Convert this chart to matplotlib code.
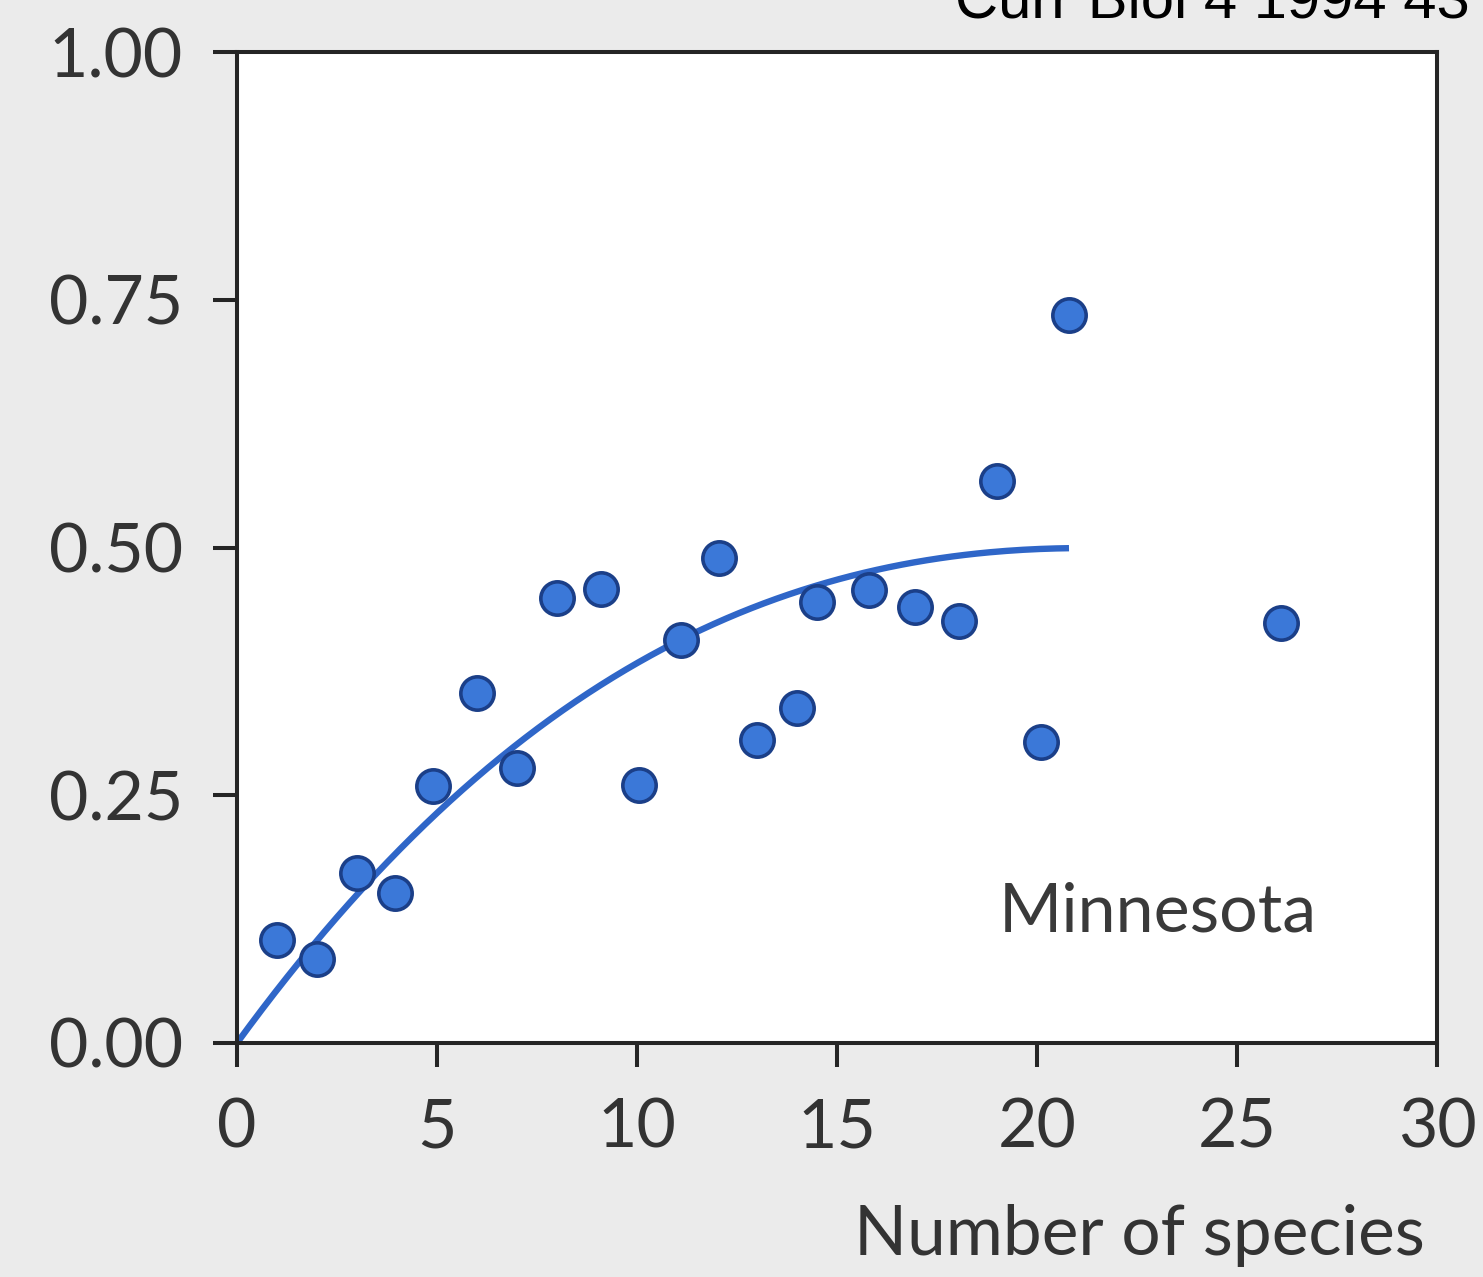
import numpy as np
import matplotlib
matplotlib.use("Agg")
import matplotlib.pyplot as plt

# Mean number of species per plot and the matching response values
species = [1.0, 2.0, 3.0, 3.95, 4.9, 6.0, 7.0, 8.0, 9.1, 10.05, 11.1, 12.05,
           13.0, 14.0, 14.5, 15.8, 16.95, 18.05, 19.0, 20.1, 20.8, 26.1]
response = [0.104, 0.085, 0.172, 0.151, 0.259, 0.353, 0.277, 0.449, 0.458,
            0.260, 0.407, 0.489, 0.306, 0.338, 0.445, 0.457, 0.440, 0.426,
            0.567, 0.304, 0.735, 0.424]

# Fitted cubic trend (highest power first) and the range it covers
fit_coefs = [1.83e-5, -0.00189, 0.0554, 0.0]
fit_range = (0.0, 20.8)

x_ticks = [0, 5, 10, 15, 20, 25, 30]
y_ticks = [0.0, 0.25, 0.5, 0.75, 1.0]
y_ticklabels = ["0.00", "0.25", "0.50", "0.75", "1.00"]

W, H, DPI = 1483, 1277, 100
fig = plt.figure(figsize=(W / DPI, H / DPI), dpi=DPI, facecolor="#ebebeb")
ax = fig.add_axes([237 / W, 1 - 1043 / H, 1200 / W, 991 / H])
ax.set_facecolor("white")

font = "Lato"
ink = "#252525"
blue_line = "#2f66c8"

xs = np.linspace(*fit_range, 200)
ax.plot(xs, np.polyval(fit_coefs, xs), color=blue_line, lw=4.6,
        solid_capstyle="butt", zorder=2)
ax.plot(species, response, "o", ms=24, mfc="#3b78d8", mec="#1b3f88",
        mew=2.6, zorder=3, clip_on=False)

ax.set_xlim(0, 30)
ax.set_ylim(0, 1.0)
ax.set_xticks(x_ticks)
ax.set_xticklabels([str(t) for t in x_ticks])
ax.set_yticks(y_ticks)
ax.set_yticklabels(y_ticklabels)

for s in ax.spines.values():
    s.set_color(ink)
    s.set_linewidth(2.9)
ax.tick_params(axis="both", direction="out", length=17, width=2.9,
               color=ink, labelcolor="#333333", labelsize=49)
ax.tick_params(axis="y", pad=22)
ax.tick_params(axis="x", pad=22)
for lab in ax.get_xticklabels() + ax.get_yticklabels():
    lab.set_fontfamily(font)

ax.text(19.05, 0.113, "Minnesota", fontsize=49, family=font, color="#3a3a3a",
        ha="left", va="baseline", transform=ax.transData)

fig.text(1425 / W, 1 - 1255 / H, "Number of species", fontsize=50,
         family=font, color="#333333", ha="right", va="baseline")

fig.text(955 / W, 1 - 18 / H, "Curr Biol 4 1994 43", fontsize=43,
         family="Liberation Sans", color="black", ha="left", va="baseline")

fig.savefig("out.png", dpi=DPI, facecolor=fig.get_facecolor())
